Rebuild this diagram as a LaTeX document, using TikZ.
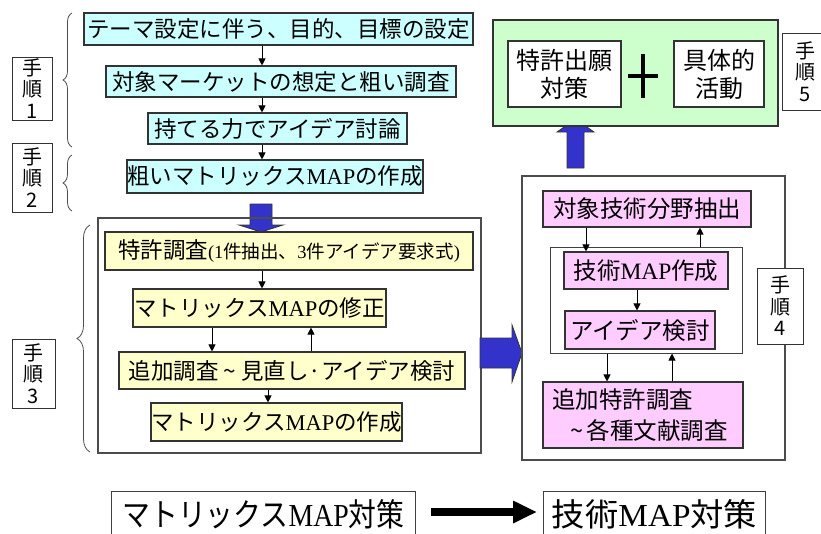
\documentclass[tikz,border=0pt]{standalone}
\usepackage{fontspec}
\setmainfont{Noto Sans CJK JP}
\newfontfamily\latinserif{Liberation Serif}
\usetikzlibrary{arrows.meta,decorations.pathreplacing}
\definecolor{cyanbg}{HTML}{CCFFFF}
\definecolor{yelbg}{HTML}{FFFFCC}
\definecolor{pinkbg}{HTML}{FFCCFF}
\definecolor{greenbg}{HTML}{CCFFCC}
\definecolor{bluearr}{HTML}{3333CC}
\definecolor{edge}{HTML}{333333}
\newcommand\mapword{{\latinserif MAP}}
\tikzset{
  box/.style={draw=edge, line width=1.1pt, inner sep=0pt, font=\fontsize{22.5}{26}\selectfont},
  cbox/.style={box, fill=cyanbg},
  ybox/.style={box, fill=yelbg},
  pbox/.style={box, fill=pinkbg, font=\fontsize{23.5}{31}\selectfont},
  wbox/.style={box, fill=white, font=\fontsize{24}{28}\selectfont, align=center},
  stepbox/.style={draw=edge, line width=1pt, fill=white, inner sep=0pt, align=center, font=\fontsize{20}{21.5}\selectfont},
  frame/.style={draw=black!70, line width=1.1pt},
  arr/.style={draw=black, line width=0.9pt, -{Triangle[length=7pt,width=7pt]}},
  blockarr/.style={fill=bluearr, draw=black!80, line width=0.8pt},
  brace/.style={draw=black!70, line width=0.8pt, decorate, decoration={brace, amplitude=9pt}},
  bottombox/.style={draw=black!75, line width=1pt, fill=white, inner sep=0pt, font=\fontsize{32}{36}\selectfont, text height=28pt, text depth=13pt}
}
\begin{document}
\begin{tikzpicture}[x=1pt,y=-1pt]
\useasboundingbox (0,0) rectangle (821,533);
\clip (0,0) rectangle (821,533);
\fill[white] (0,0) rectangle (821,533);

% step 1 & 2 boxes
\node[cbox, minimum width=389pt, minimum height=32pt] (A) at (278.5,29) {テーマ設定に伴う、目的、目標の設定};
\node[cbox, minimum width=350pt, minimum height=31pt] (B) at (281,81.5) {対象マーケットの想定と粗い調査};
\node[cbox, minimum width=259pt, minimum height=31pt] (C) at (277.5,128.5) {持てる力でアイデア討論};
\node[cbox, minimum width=296pt, minimum height=33pt] (D) at (275,176.5) {粗いマトリックス\mapword の作成};
\coordinate (xa) at (262,0);
\draw[arr] (xa |- A.south) -- (xa |- B.north);
\draw[arr] (xa |- B.south) -- (xa |- C.north);
\draw[arr] (xa |- C.south) -- (xa |- D.north);

% step labels
\node[stepbox, minimum width=40pt, minimum height=63pt] (T1) at (32,88.5) {手\\順\\1};
\node[stepbox, minimum width=40pt, minimum height=69pt] (T2) at (32,177.5) {手\\順\\2};
\node[stepbox, minimum width=43pt, minimum height=69pt] (T3) at (33.5,373.5) {手\\順\\3};

% braces
\draw[brace] (72,147) -- (72,13);
\draw[brace] (72,211) -- (72,155);
\draw[brace, decoration={brace, amplitude=13pt}] (90,452) -- (90,225);

% blue down arrow
\draw[blockarr] (250,204) -- (272,204) -- (272,225) -- (283,225) -- (261,232) -- (239,225) -- (250,225) -- cycle;

% step 3 frame
\node[frame, minimum width=383pt, minimum height=235pt, inner sep=0pt] (S3) at (289.5,335.5) {};
\node[ybox, minimum width=368pt, minimum height=38pt] (E) at (289,251) {特許調査\fontsize{18.5}{20}\selectfont{\latinserif (1}件抽出、{\latinserif 3}件アイデア要求式{\latinserif )}};
\node[ybox, minimum width=253pt, minimum height=38pt] (F) at (259.5,308) {マトリックス\mapword の修正};
\node[ybox, minimum width=346pt, minimum height=37pt] (G) at (292,370.5) {追加調査 \textasciitilde\ 見直し{\fontsize{22.5}{26}\selectfont ·}アイデア検討};
\node[ybox, minimum width=251pt, minimum height=38pt] (H) at (276.5,422) {マトリックス\mapword の作成};
\coordinate (xe) at (262,0);
\coordinate (xf1) at (212,0);
\coordinate (xf2) at (311,0);
\coordinate (xg) at (268,0);
\draw[arr] (xe |- E.south) -- (xe |- F.north);
\draw[arr] (xf1 |- F.south) -- (xf1 |- G.north);
\draw[arr] (xf2 |- G.north) -- (xf2 |- F.south);
\draw[arr] (xg |- G.south) -- (xg |- H.north);

% blue right arrow
\draw[blockarr] (480,338) -- (512,338) -- (512,325) -- (522,353) -- (512,382) -- (512,368) -- (480,368) -- cycle;

% step 4 frame
\node[frame, minimum width=263pt, minimum height=284pt, inner sep=0pt] (S4) at (653.5,318) {};
\node[pbox, minimum width=208pt, minimum height=36pt] (I) at (647,209) {対象技術分野抽出};
\node[frame, draw=black!75, line width=1pt, minimum width=192pt, minimum height=106pt, inner sep=0pt] (IF) at (646,300) {};
\node[pbox, minimum width=164pt, minimum height=37pt] (J) at (646,270.5) {技術\mapword 作成};
\node[pbox, minimum width=150pt, minimum height=38pt] (K) at (640,330) {アイデア検討};
\node[pbox, minimum width=200pt, minimum height=66pt, align=left] (L) at (643,415) {追加特許調査\\\hspace*{18pt}\textasciitilde\,各種文献調査\hspace*{6pt}};
\node[stepbox, minimum width=46pt, minimum height=76pt] (T4) at (780,306) {手\\順\\4};
\coordinate (xi1) at (586,0);
\coordinate (xi2) at (700,0);
\coordinate (xj) at (637,0);
\coordinate (xl1) at (607,0);
\coordinate (xl2) at (672,0);
\draw[arr] (xi1 |- I.south) -- (xi1 |- J.north);
\draw[arr] (xi2 |- IF.north) -- (xi2 |- I.south);
\draw[arr] (xj |- J.south) -- (xj |- K.north);
\draw[arr] (xl1 |- IF.south) -- (xl1 |- L.north);
\draw[arr] (xl2 |- L.north) -- (xl2 |- IF.south);

% blue up arrow
\draw[blockarr] (567,168) -- (584,168) -- (584,132) -- (594,132) -- (575.5,119) -- (557,132) -- (567,132) -- cycle;

% step 5
\node[box, fill=greenbg, minimum width=285pt, minimum height=106pt] (G5) at (635.5,73) {};
\node[wbox, minimum width=113pt, minimum height=66pt] (M) at (564.5,74) {特許出願\\対策};
\node[wbox, minimum width=90pt, minimum height=66pt] (N) at (719,74) {具体的\\活動};
\coordinate (plus) at (643,76);
\draw[line width=3.5pt] ([xshift=-15pt]plus) -- ([xshift=15pt]plus);
\draw[line width=3.5pt] ([yshift=-22pt]plus) -- ([yshift=22pt]plus);
\node[stepbox, minimum width=46pt, minimum height=77pt] (T5) at (805,71.5) {手\\順\\5};

% bottom
\node[bottombox, minimum width=304pt, minimum height=54pt, anchor=north west] (B1) at (111,491) {\scalebox{0.87}[1]{マトリックス\mapword 対策}};
\node[bottombox, minimum width=222pt, minimum height=54pt, anchor=north west] (B2) at (543,491) {\scalebox{1.04}[1]{技術\mapword 対策}};
\coordinate (yb) at (0,512);
\draw[line width=7.5pt, -{Triangle[length=24pt,width=21pt]}, shorten <=15pt, shorten >=6pt] (B1.east |- yb) -- (B2.west |- yb);
\end{tikzpicture}
\end{document}
